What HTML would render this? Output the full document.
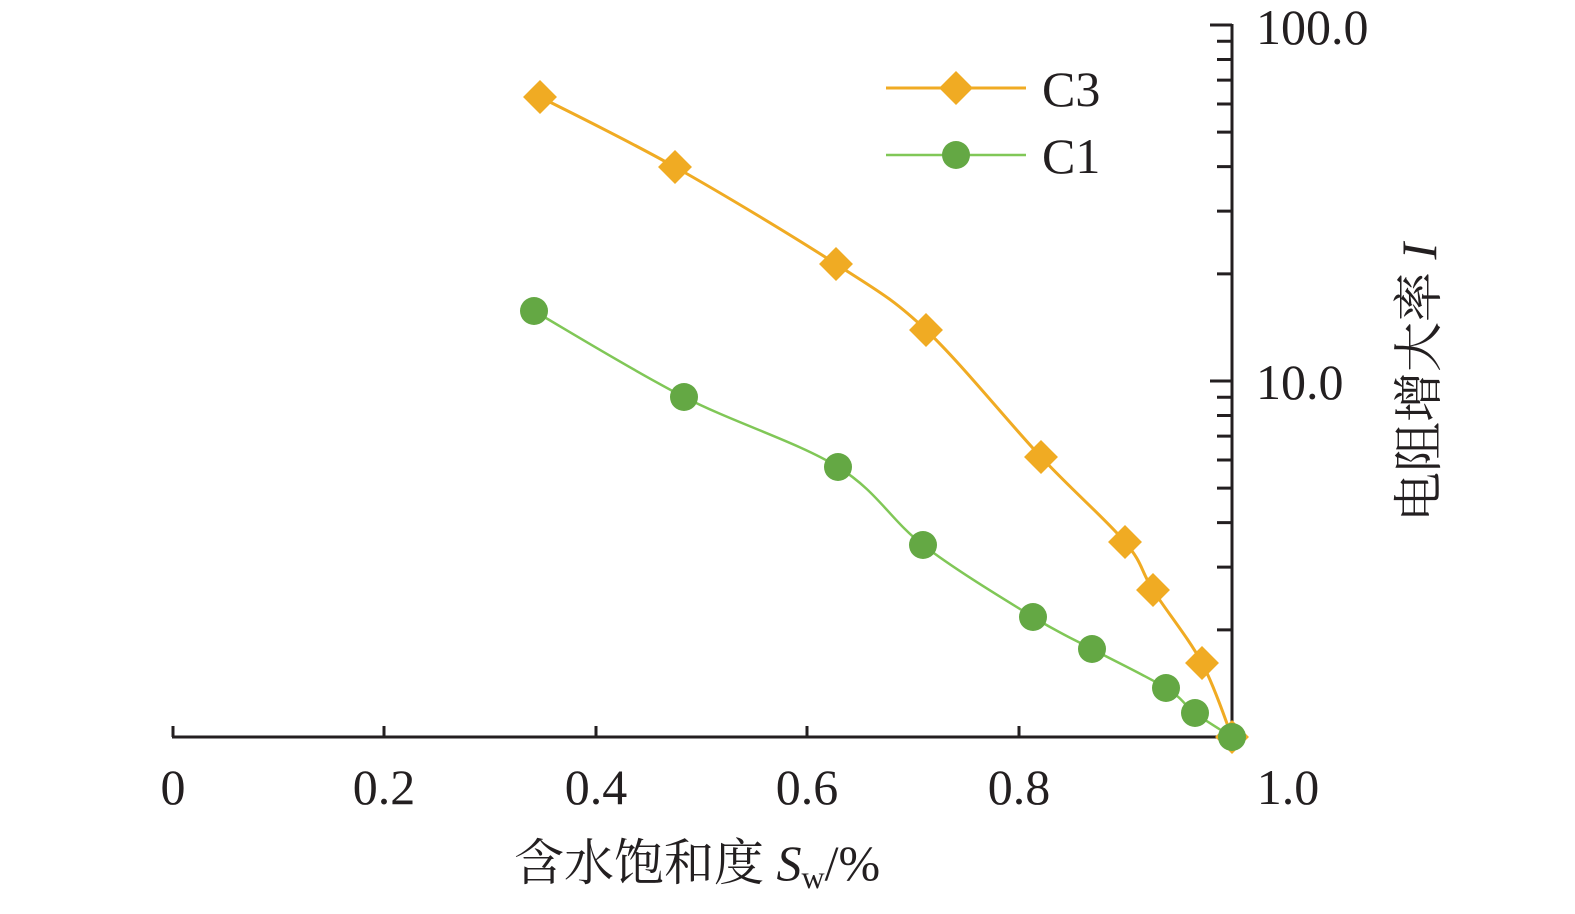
<!DOCTYPE html>
<html><head><meta charset="utf-8"><style>
body{margin:0;background:#fff}
svg text{font-family:"Liberation Serif","Noto Serif CJK SC",serif;fill:#231f20}
</style></head><body>
<svg id="s" width="1575" height="909" xmlns="http://www.w3.org/2000/svg">
<g stroke="#231f20" stroke-width="3" fill="none">
<line x1="172" y1="737" x2="1233" y2="737"/>
<line x1="1232" y1="24" x2="1232" y2="738"/>
<path d="M173 737V726M384 737V726M596 737V726M807 737V726M1019 737V726"/>
<g id="ticks"></g>
</g>
<path id="p3" fill="none" stroke="#F0AB23" stroke-width="3"/>
<path id="p1" fill="none" stroke="#80C757" stroke-width="2.5"/>
<g id="m"></g>
<line x1="886" y1="88" x2="1026" y2="88" stroke="#F0AB23" stroke-width="3"/>
<rect x="944" y="76" width="24" height="24" fill="#F0AB23" transform="rotate(45 956 88)"/>
<line x1="886" y1="155" x2="1026" y2="155" stroke="#80C757" stroke-width="2.5"/>
<circle cx="956" cy="155" r="14" fill="#64A844"/>
<text x="1042" y="106" font-size="50">C3</text>
<text x="1042" y="173" font-size="50">C1</text>
<g font-size="50" text-anchor="middle">
<text x="173" y="804">0</text><text x="384" y="804">0.2</text><text x="596" y="804">0.4</text>
<text x="807" y="804">0.6</text><text x="1019" y="804">0.8</text><text x="1288" y="804">1.0</text>
</g>
<text x="1256" y="44" font-size="50">100.0</text>
<text x="1256" y="399" font-size="50">10.0</text>
<text x="514" y="880" font-size="50">含水饱和度 <tspan font-style="italic">S</tspan><tspan font-size="32" dy="8">w</tspan><tspan dy="-8">/%</tspan></text>
<text transform="translate(1436 522) rotate(-90)" font-size="50">电阻增大率 <tspan font-style="italic">I</tspan></text>
</svg>
<script>
function y(v){return 737-356*Math.log10(v);}
var t="";
for(var d=0;d<2;d++)for(var k=1;k<=10;k++){var v=Math.pow(10,d)*k;var L=(k==1||k==10)?22:15;if(d==1&&k==1)continue;t+="M"+(1232-L)+" "+y(v)+"H1232";}
document.getElementById("ticks").innerHTML='<path d="'+t+'"/>';
var c3=[[540,97],[675,167],[836,264],[926,330],[1041,457],[1125,542],[1153,590],[1202,663],[1232,737]];
var c1=[[534,311],[684,397],[838,467],[923,545],[1033,617],[1092,649],[1166,688],[1195,713],[1232,737]];
function cr(p){var s="M"+p[0];for(var i=0;i<p.length-1;i++){var a=p[i-1]||p[i],b=p[i],c=p[i+1],d=p[i+2]||c;
s+="C"+(b[0]+(c[0]-a[0])/6)+" "+(b[1]+(c[1]-a[1])/6)+" "+(c[0]-(d[0]-b[0])/6)+" "+(c[1]-(d[1]-b[1])/6)+" "+c[0]+" "+c[1];}return s;}
document.getElementById("p3").setAttribute("d",cr(c3));
document.getElementById("p1").setAttribute("d",cr(c1));
var m="";
c3.forEach(function(p){m+='<rect x="'+(p[0]-12)+'" y="'+(p[1]-12)+'" width="24" height="24" fill="#F0AB23" transform="rotate(45 '+p[0]+' '+p[1]+')"/>';});
c1.forEach(function(p){m+='<circle cx="'+p[0]+'" cy="'+p[1]+'" r="14" fill="#64A844"/>';});
document.getElementById("m").innerHTML=m;
</script>
</body></html>
